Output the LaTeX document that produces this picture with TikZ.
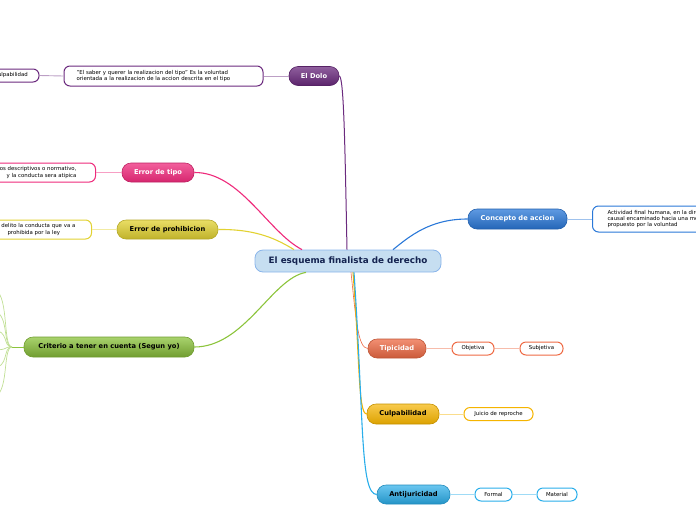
\documentclass[tikz,border=0pt]{standalone}
\usepackage{fontspec}
\setmainfont{DejaVu Sans}
\definecolor{cpurple}{HTML}{6B2A7E}
\definecolor{cpink}{HTML}{EE2A7B}
\definecolor{cyellow}{HTML}{E2D232}
\definecolor{cgreen}{HTML}{8CC43C}
\definecolor{cblue}{HTML}{2A78D8}
\definecolor{corange}{HTML}{EE6A44}
\definecolor{camber}{HTML}{F5B400}
\definecolor{clblue}{HTML}{2AAEEA}
\begin{document}
\begin{tikzpicture}[x=1pt,y=-1pt,
  mainbox/.style={rounded corners=9pt, minimum height=19pt, inner sep=0pt, draw=#1!80!black, line width=0.6pt,
     font=\fontsize{6.7}{7.5}\selectfont\bfseries},
  childbox/.style={rounded corners=6pt, draw=#1, fill=white, line width=1pt, inner ysep=2pt,
     font=\fontsize{5.4}{6.3}\selectfont},
  conn/.style={line width=1.1pt, #1},
  sub/.style={line width=0.9pt, #1!45}]
\useasboundingbox (0,0) rectangle (696,520);

% ---------- centre ----------
\node[rounded corners=8pt, draw=cblue!55, fill={rgb,255:red,198;green,222;blue,241}, line width=0.8pt,
  minimum width=186pt, minimum height=22pt, inner sep=0pt,
  font=\fontsize{8.8}{10}\selectfont\bfseries, text={rgb,255:red,20;green,35;blue,80}] (center) at (348,261) {El esquema finalista de derecho};

% ---------- main nodes ----------
\node[mainbox=cpurple, top color=cpurple!75!white, bottom color=cpurple!85!black, text=white, minimum width=50pt] (dolo) at (314,76) {El Dolo};
\node[mainbox=cpink, top color=cpink!75!white, bottom color=cpink!90!black, text=white, minimum width=72pt] (tipo) at (158,172.5) {Error de tipo};
\node[mainbox=cyellow, top color=cyellow!75!white, bottom color=cyellow!85!black, text=black, minimum width=101pt] (proh) at (167.5,229.5) {Error de prohibicion};
\node[mainbox=cgreen, top color=cgreen!75!white, bottom color=cgreen!80!black, text=black, minimum width=170pt, minimum height=20pt] (crit) at (109,347) {Criterio a tener en cuenta (Segun yo)};
\node[mainbox=cblue, top color=cblue!75!white, bottom color=cblue!85!black, text=white, minimum width=99pt, minimum height=20pt] (conc) at (517.5,219) {Concepto de accion};
\node[mainbox=corange, top color=corange!75!white, bottom color=corange!85!black, text=white, minimum width=58pt] (tip) at (397,348.5) {Tipicidad};
\node[mainbox=camber, top color=camber!70!white, bottom color=camber!90!black, text=black, minimum width=72pt, minimum height=20pt] (culp) at (403,414) {Culpabilidad};
\node[mainbox=clblue, top color=clblue!70!white, bottom color=clblue!85!black, text=black, minimum width=73pt] (anti) at (413.5,494.5) {Antijuricidad};

% ---------- child nodes ----------
\node[childbox=cpurple, text width=174pt, inner xsep=12.5pt, align=left, minimum height=20pt] (dolot) at (163.5,76)
  {"El saber y querer la realizacion del tipo" Es la voluntad\\orientada a la realizacion de la accion descrita en el tipo};
\node[childbox=cpurple, minimum width=56pt, minimum height=13pt, inner ysep=0pt] (culpa) at (11,75.5) {Culpabilidad};
\node[childbox=cpink, text width=150pt, inner xsep=19pt, align=right, minimum height=19pt, anchor=east] (tipot) at (96,172.5)
  {os descriptivos o normativo,\\y la conducta sera atipica};
\node[childbox=cyellow, text width=80pt, inner xsep=10pt, align=left, minimum height=19pt, anchor=east] (proht) at (92,229.5)
  {delito la conducta que va a\\\hspace*{6pt}prohibida por la ley};
\node[childbox=cblue, text width=150pt, inner xsep=15pt, align=left, minimum height=26pt, anchor=west] (conct) at (592,219)
  {Actividad final humana, en la direccion\\causal encaminado hacia una meta\\propuesto por la voluntad};
\node[childbox=corange, minimum width=42pt, minimum height=13pt, inner ysep=0pt] (obj) at (473,348.5) {Objetiva};
\node[childbox=corange, minimum width=43pt, minimum height=13pt, inner ysep=0pt] (subj) at (541.5,348.5) {Subjetiva};
\node[childbox=camber, minimum width=69pt, minimum height=13pt, inner ysep=0pt] (juic) at (498.5,414) {Juicio de reproche};
\node[childbox=clblue, minimum width=37pt, minimum height=13pt, inner ysep=0pt] (form) at (493.5,494.5) {Formal};
\node[childbox=clblue, minimum width=40pt, minimum height=13pt, inner ysep=0pt] (mat) at (557,494.5) {Material};

% off-page children of the green node
\coordinate (g1) at (-8,289);
\coordinate (g2) at (-8,311);
\coordinate (g3) at (-8,330);
\coordinate (g4) at (-8,350);
\coordinate (g5) at (-8,368);
\coordinate (g6) at (-8,397);
\coordinate (gb) at (12,347);

% ---------- main connectors ----------
\draw[line width=1pt, cpurple] (dolo.east) .. controls (344,77) and (345,150) .. ([xshift=-1pt]center.north);
\draw[conn=cpink] (tipo.east) .. controls (240,172) and (268,232) .. ([xshift=-46pt]center.north);
\draw[conn=cyellow] (proh.east) .. controls (258,229) and (278,240) .. ([xshift=-54pt]center.north);
\draw[conn=cgreen] (crit.east) .. controls (245,347) and (272,278) .. ([xshift=-42pt]center.south);
\draw[conn=cblue] (conc.west) .. controls (430,219) and (410,236) .. ([xshift=45pt]center.north);
\draw[line width=0.6pt, corange] ([xshift=3pt]center.south) .. controls (356,320) and (358,348) .. (tip.west);
\draw[conn=camber] ([xshift=5pt]center.south) .. controls (360,360) and (358,414) .. (culp.west);
\draw[conn=clblue] ([xshift=6pt]center.south) .. controls (364,420) and (360,494) .. (anti.west);

% ---------- child connectors ----------
\draw[sub=cpurple] (dolo.west) -- (dolot.east);
\draw[sub=cpurple] (dolot.west) -- (culpa.east);
\draw[sub=cpink] (tipo.west) -- (tipot.east);
\draw[sub=cyellow] (proh.west) -- (proht.east);
\draw[sub=cblue] (conc.east) -- (conct.west);
\draw[sub=corange] (tip.east) -- (obj.west);
\draw[sub=corange] (obj.east) -- (subj.west);
\draw[sub=camber] (culp.east) -- (juic.west);
\draw[sub=clblue] (anti.east) -- (form.west);
\draw[sub=clblue] (form.east) -- (mat.west);

\draw[line width=1pt, cgreen] (crit.west) -- (gb);
\foreach \g in {g1,g2,g3,g4,g5,g6}
  \draw[line width=0.7pt, cgreen!55] (gb) .. controls (2,347) and (10,0|-\g) .. (\g);
\end{tikzpicture}
\end{document}
